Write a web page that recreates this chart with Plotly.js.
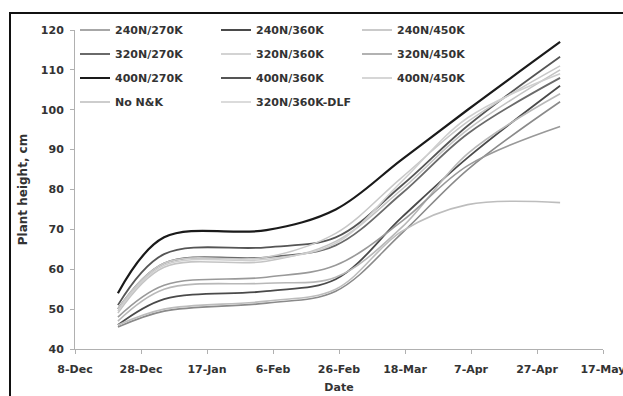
<!DOCTYPE html>
<html>
<head>
<meta charset="utf-8">
<script src="https://cdn.plot.ly/plotly-3.0.1.min.js"></script>
<style>
  html, body { margin: 0; padding: 0; background: #fff; overflow: hidden; }
  #chart { position: absolute; left: 0; top: 0; width: 640px; height: 410px; }
  #frame { position: absolute; left: 9px; top: 12px; width: 700px; height: 500px;
           border: 2px solid #111; pointer-events: none; }
</style>
</head>
<body>
<div id="chart"></div>
<div id="frame"></div>
<script>
// Measurement dates
const dates = ['2013-12-21', '2014-01-04', '2014-02-04', '2014-02-25', '2014-03-17', '2014-04-06', '2014-05-04'];

// Series names (legend order, row by row)
const names = ['240N/270K', '240N/360K', '240N/450K',
               '320N/270K', '320N/360K', '320N/450K',
               '400N/270K', '400N/360K', '400N/450K',
               'No N&K', '320N/360K-DLF'];

// Plant height, cm
const h240_270 = [45.5, 49.5, 51.5, 54.5, 69.0, 85.0, 102.0];
const h240_360 = [46.0, 52.5, 54.5, 57.5, 73.0, 88.0, 106.0];
const h240_450 = [47.0, 55.0, 56.5, 58.0, 70.5, 89.0, 104.0];
const h320_270 = [50.0, 61.5, 63.0, 66.0, 79.0, 94.0, 108.0];
const h320_360 = [49.0, 60.5, 62.0, 67.0, 80.0, 95.0, 110.0];
const h320_450 = [48.0, 56.0, 58.0, 61.0, 72.0, 86.0, 95.8];
const h400_270 = [54.0, 68.0, 69.8, 75.0, 87.5, 100.0, 117.0];
const h400_360 = [51.0, 63.8, 65.5, 68.0, 81.0, 96.0, 113.3];
const h400_450 = [50.0, 61.5, 63.0, 69.0, 83.0, 97.0, 111.0];
const hNoNK    = [46.0, 50.0, 52.0, 55.0, 69.5, 76.2, 76.7];
const h320_360_DLF = [49.5, 61.0, 62.5, 66.5, 82.0, 98.0, 109.0];

const series = [h240_270, h240_360, h240_450, h320_270, h320_360, h320_450,
                h400_270, h400_360, h400_450, hNoNK, h320_360_DLF];
const colors = ['#8a8a8a', '#4a4a4a', '#b8b8b8',
                '#6a6a6a', '#c4c4c4', '#999999',
                '#1a1a1a', '#555555', '#c8c8c8',
                '#bdbdbd', '#cfcfcf'];
const widths = [1.6, 1.8, 1.6, 1.8, 1.6, 1.6, 2.2, 1.8, 1.6, 1.6, 1.6];
const legendIds = ['legend', 'legend', 'legend',
                   'legend2', 'legend2', 'legend2',
                   'legend3', 'legend3', 'legend3',
                   'legend4', 'legend4'];

const traces = series.map((ys, i) => ({
  x: dates, y: ys, name: names[i], type: 'scatter', mode: 'lines',
  line: { color: colors[i], width: widths[i], shape: 'spline', smoothing: 1 },
  legend: legendIds[i]
}));

const font = { family: 'DejaVu Sans', size: 11, color: '#333', weight: 'bold' };
function leg(y) {
  return { orientation: 'h', x: 0, xanchor: 'left', y: y, yanchor: 'middle',
           entrywidth: 96, entrywidthmode: 'pixels', font: font,
           bgcolor: 'rgba(0,0,0,0)', borderwidth: 0, itemwidth: 30 };
}

const layout = {
  width: 640, height: 410,
  margin: { l: 75, r: 37, t: 30, b: 61 },
  paper_bgcolor: '#fff', plot_bgcolor: '#fff',
  showlegend: true,
  xaxis: {
    type: 'date', range: ['2013-12-08', '2014-05-17'],
    tick0: '2013-12-08', dtick: 20 * 86400000, tickformat: '%-d-%b',
    showgrid: false, zeroline: false, showline: true, linecolor: '#b0b0b0', linewidth: 1,
    ticks: 'outside', ticklen: 4, tickcolor: '#b0b0b0',
    tickfont: font, ticklabelstandoff: 6,
    title: { text: 'Date', font: { family: 'DejaVu Sans', size: 11, color: '#333', weight: 'bold' }, standoff: 8 }
  },
  yaxis: {
    range: [40, 120], dtick: 10,
    showgrid: false, zeroline: false, showline: true, linecolor: '#b0b0b0', linewidth: 1,
    ticks: 'outside', ticklen: 4, tickcolor: '#b0b0b0',
    tickfont: font, ticklabelstandoff: 4,
    title: { text: 'Plant height, cm', font: { family: 'DejaVu Sans', size: 12, color: '#333', weight: 'bold' }, standoff: 10 }
  },
  legend: leg(1.0),
  legend2: leg(0.9248),
  legend3: leg(0.8495),
  legend4: leg(0.7743)
};

Plotly.newPlot('chart', traces, layout, { displayModeBar: false, staticPlot: true });
</script>
</body>
</html>
